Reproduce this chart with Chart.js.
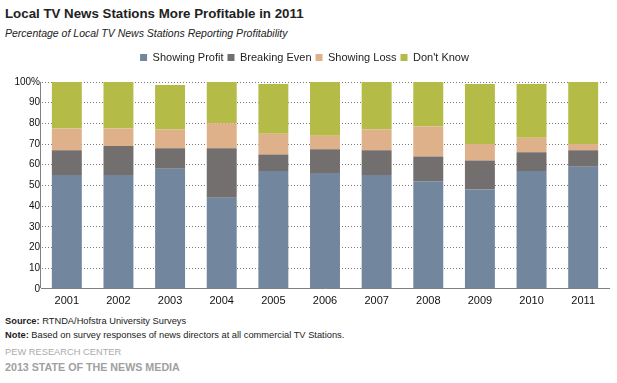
<!DOCTYPE html>
<html>
<head>
<meta charset="utf-8">
<script src="https://cdn.jsdelivr.net/npm/chart.js@4"></script>
<style>
  body { margin: 0; background: #fff; font-family: "Liberation Sans", Arial, sans-serif; color: #222; }
  #wrap { position: relative; width: 617px; height: 383px; }
  .t { position: absolute; left: 5px; white-space: nowrap; }
  #title { top: 6px; font-size: 13.3px; font-weight: bold; }
  #sub { top: 27px; font-size: 10.5px; font-style: italic; }
  #src { top: 316px; font-size: 9.3px; }
  #note { top: 330px; font-size: 9.3px; }
  #pew { top: 347px; font-size: 9.3px; color: #aaa; }
  #sotnm { top: 361px; font-size: 10.7px; font-weight: bold; color: #a0a0a0; }
  #cv { position: absolute; left: 0; top: 48px; }
</style>
</head>
<body>
<div id="wrap">
  <div class="t" id="title">Local TV News  Stations More Profitable in 2011</div>
  <div class="t" id="sub">Percentage of Local TV News Stations  Reporting Profitability</div>
  <canvas id="cv" width="617" height="266"></canvas>
  <div class="t" id="src"><b>Source:</b> RTNDA/Hofstra University Surveys</div>
  <div class="t" id="note"><b>Note:</b> Based on survey responses of news directors at all commercial TV  Stations.</div>
  <div class="t" id="pew">PEW RESEARCH CENTER</div>
  <div class="t" id="sotnm">2013 STATE OF THE NEWS MEDIA</div>
</div>
<script>
const years = ['2001', '2002', '2003', '2004', '2005', '2006', '2007', '2008', '2009', '2010', '2011'];
const showingProfit = [55, 55, 58, 44, 57, 56, 55, 52, 48, 57, 59];
const breakingEven  = [12, 14, 10, 24, 8, 11.5, 12, 12, 14, 9, 8];
const showingLoss   = [10.5, 8.5, 9, 12, 10, 6.5, 10, 14.5, 8, 7, 3];
const dontKnow      = [22.5, 22.5, 21.5, 20, 24, 26, 23, 21.5, 29, 26, 30];
const yTicks = [0, 10, 20, 30, 40, 50, 60, 70, 80, 90, 100];

const FONT = "'Liberation Sans', Arial, sans-serif";

const ds = (label, data, color) => ({
  label: label,
  data: data,
  backgroundColor: color,
  borderWidth: 0,
  categoryPercentage: 1,
  barPercentage: 0.58
});

// push the plot down below the legend
const legendGap = {
  id: 'legendGap',
  beforeInit(chart) {
    const fit = chart.legend.fit;
    chart.legend.fit = function () { fit.bind(chart.legend)(); this.height += 9; };
  }
};

var ctx = document.getElementById('cv');
const chart = new Chart(ctx, {
  type: 'bar',
  data: {
    labels: years,
    datasets: [
      ds('Showing Profit', showingProfit, '#72869e'),
      ds('Breaking Even', breakingEven, '#736f6e'),
      ds('Showing Loss', showingLoss, '#dfb18a'),
      ds("Don't Know", dontKnow, '#b4bb47')
    ]
  },
  plugins: [legendGap],
  options: {
    responsive: false,
    animation: false,
    layout: { padding: { left: 0, right: 8, top: 0, bottom: 0 } },
    plugins: {
      tooltip: { enabled: false },
      legend: {
        position: 'top',
        labels: {
          boxWidth: 7,
          boxHeight: 7,
          padding: 4,
          color: '#222',
          font: { family: FONT, size: 11 }
        }
      }
    },
    scales: {
      x: {
        stacked: true,
        grid: {
          display: true,
          drawTicks: false,
          offset: true,
          color: c => c.index === 0 ? '#808080' : 'rgba(0,0,0,0)'
        },
        border: { color: '#808080', width: 1 },
        ticks: { color: '#111', padding: 6, font: { family: FONT, size: 11 } }
      },
      y: {
        stacked: true,
        min: 0,
        max: 100,
        afterBuildTicks: s => { s.ticks = yTicks.map(v => ({ value: v })); },
        afterFit: s => { s.width = 41; },
        grid: { color: '#777', drawTicks: false },
        border: { display: true, color: 'rgba(0,0,0,0)', width: 1, dash: [1, 2] },
        ticks: {
          color: '#111',
          padding: 1,
          font: { family: FONT, size: 10 },
          callback: v => v === 100 ? '100%' : v
        }
      }
    }
  }
});
</script>
</body>
</html>
